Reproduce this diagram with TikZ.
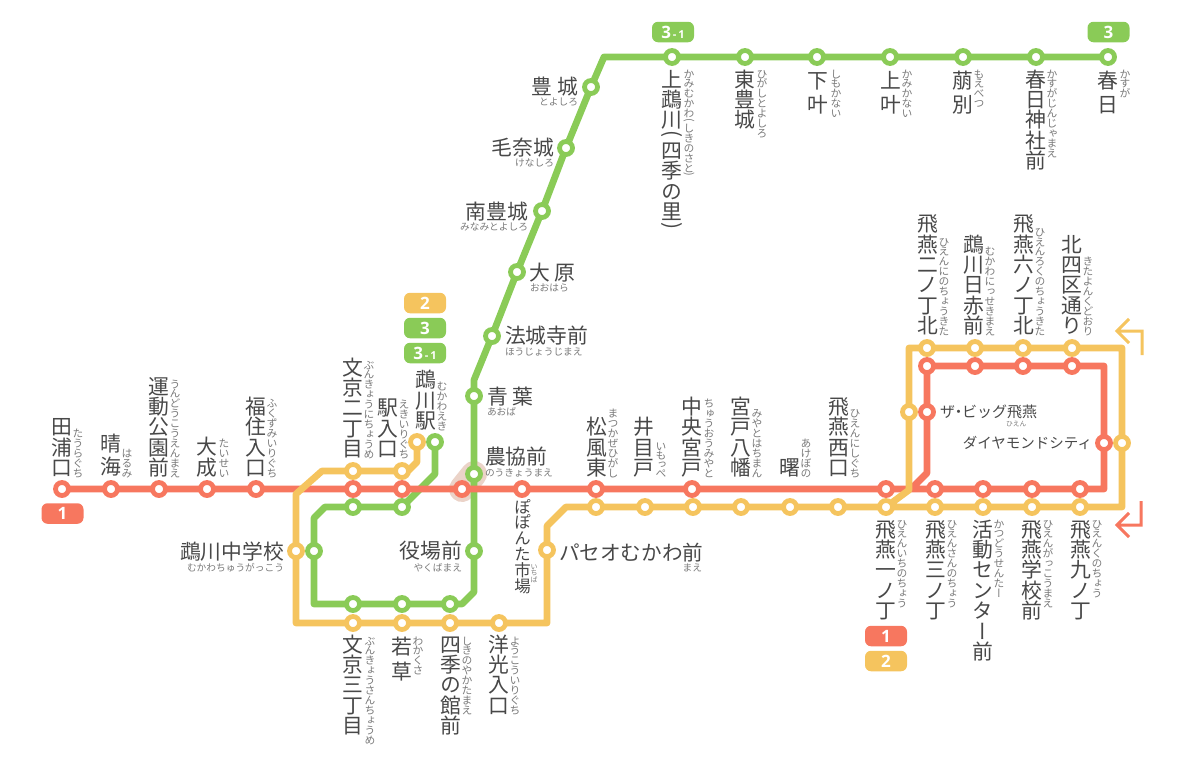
\documentclass[tikz,border=0pt]{standalone}
\usepackage{fontspec}
\usepackage{graphicx}
\usetikzlibrary{backgrounds}
\newfontfamily\jph{Noto Sans CJK JP}
\newfontfamily\jpv[RawFeature=+vert]{Noto Sans CJK JP}
\newfontfamily\bdgf{Open Sans}
\definecolor{rd}{HTML}{F7775F}
\definecolor{gr}{HTML}{8ACB57}
\definecolor{yl}{HTML}{F5C45E}
\definecolor{hl}{HTML}{EBD3C8}
\definecolor{kj}{HTML}{484848}
\definecolor{kn}{HTML}{7A7A7A}
\tikzset{
  x=1pt,y=-1pt,
  station/.style={circle,inner sep=0pt,minimum size=13pt,line width=4.8pt,fill=white},
  route/.style={line width=6.8pt,line join=round,line cap=round},
  badge/.style={rounded corners=6pt,minimum width=42pt,minimum height=20.5pt,inner sep=0pt,text=white,font=\bdgf\bfseries\fontsize{17}{17}\selectfont},
  arrowline/.style={line width=3pt,miter limit=10},
  lbl/.style={inner sep=0pt,outer sep=0pt}
}
\makeatletter
\def\vlpc{(}\def\vrpc{)}
\newcounter{labc}
\newcommand\vst[3]{%
  \vbox{\offinterlineskip
  \@tfor\cc:=#3\do{%
    \ifx\cc\vlpc\vst@p{#1}{#2}\else\ifx\cc\vrpc\vst@p{#1}{#2}\else
    \hbox to #2pt{\hss\vrule width 0pt height \dimexpr #1pt/2+#2pt*38/100\relax depth \dimexpr #1pt/2-#2pt*38/100\relax\cc\hss}%
    \fi\fi}}}
\newcommand\vst@p[2]{\vbox to \dimexpr #1pt/2\relax{\vss\hbox to #2pt{\hss\rotatebox[origin=c]{-90}{\cc}\hss}\vss}}
\makeatother
% vertical kanji: [pitch]{anchor}{x}{y}{text}
\newcommand\VK[5][20.4]{\stepcounter{labc}\node[lbl,anchor=#2,text=kj] (kanji\arabic{labc}) at (#3,#4) {\fontsize{20.8}{20.8}\selectfont\jpv\vst{#1}{20.8}{#5}};}
% vertical kana
\newcommand\VF[5][9.9]{\stepcounter{labc}\node[lbl,anchor=#2,text=kn] (kana\arabic{labc}) at (#3,#4) {\fontsize{10.8}{10.8}\selectfont\jpv\vst{#1}{10.8}{#5}};}
% horizontal: {anchor}{x}{centre y}{size}{colour}{text}
\newcommand\HT[6]{\stepcounter{labc}\node[lbl,anchor=base #1,text=#5] (hlab\arabic{labc}) at (#2,{#3+0.38*#4}) {\fontsize{#4}{#4}\selectfont\jph #6};}
\newcommand\sta[4]{\node[station,draw=#1] (#2) at (#3,#4) {};}
\begin{document}
\begin{tikzpicture}
\useasboundingbox (0,0) rectangle (1200,766);
% ---- red stations
\foreach \n/\x in {r1/62,r2/111,r3/159,r4/207,r5/256,r6/353,r7/402,r8/462,r9/522,r10/596,r11/692,r12/886,r13/935,r14/983,r15/1032,r16/1080}{\sta{rd}{\n}{\x}{489}}
\sta{rd}{r17}{1104}{443}
\foreach \n/\x in {r18/1072,r19/1023,r20/975,r21/927}{\sta{rd}{\n}{\x}{366}}
\sta{rd}{r22}{927}{412}
% ---- yellow stations
\sta{yl}{y1}{417}{442}
\sta{yl}{y2}{402}{471}
\sta{yl}{y3}{353}{471}
\sta{yl}{y4}{296}{551}
\foreach \n/\x in {y5/353,y6/402,y7/450,y8/499}{\sta{yl}{\n}{\x}{623}}
\sta{yl}{y9}{547}{550}
\foreach \n/\x in {y10/596,y11/645,y12/693,y13/741,y14/790,y15/838,y16/886,y17/935,y18/983,y19/1032,y20/1080}{\sta{yl}{\n}{\x}{507}}
\sta{yl}{y21}{1122}{443}
\foreach \n/\x in {y22/1072,y23/1023,y24/975,y25/927}{\sta{yl}{\n}{\x}{348}}
\sta{yl}{y26}{909}{412}
% ---- green stations
\sta{gr}{g1}{435}{442}
\sta{gr}{g2}{402}{507}
\sta{gr}{g3}{353}{507}
\sta{gr}{g4}{314}{551}
\foreach \n/\x in {g5/353,g6/402,g7/450}{\sta{gr}{\n}{\x}{604}}
\sta{gr}{g8}{474}{551}
\sta{gr}{g9}{474}{474}
\sta{gr}{g10}{474}{396}
\sta{gr}{g11}{492}{336}
\sta{gr}{g12}{517}{272}
\sta{gr}{g13}{542}{211}
\sta{gr}{g14}{566}{148}
\sta{gr}{g15}{591}{87}
\foreach \n/\x in {g16/672,g17/745,g18/817,g19/890,g20/963,g21/1036,g22/1108}{\sta{gr}{\n}{\x}{57}}
% ---- corners
\coordinate (rc1) at (1104,489);
\coordinate (rc2) at (1104,366);
\coordinate (rc3) at (927,473);
\coordinate (rc4) at (911,489);
\coordinate (yc1) at (417,462);
\coordinate (yc2) at (408,471);
\coordinate (yc3) at (322,471);
\coordinate (yc4) at (296,494);
\coordinate (yc5) at (296,623);
\coordinate (yc6) at (547,623);
\coordinate (yc7) at (547,526);
\coordinate (yc8) at (566,507);
\coordinate (yc9) at (1122,507);
\coordinate (yc10) at (1122,348);
\coordinate (yc11) at (909,348);
\coordinate (yc12) at (909,490);
\coordinate (gc1) at (435,474);
\coordinate (gc2) at (325,507);
\coordinate (gc3) at (314,518);
\coordinate (gc4) at (314,604);
\coordinate (gc5) at (462,604);
\coordinate (gc6) at (474,592);
\coordinate (gc7) at (474,380);
\coordinate (gc8) at (604,57);
% ---- routes under the stations
\begin{scope}[on background layer]
\draw[hl,line width=26pt,line cap=round] (r8.center) -- (g9.center);
\draw[route,gr] (g1.center) -- (gc1) -- (g2.center) -- (g3.center) -- (gc2) -- (gc3) -- (g4.center) -- (gc4) -- (g5.center) -- (g6.center) -- (g7.center) -- (gc5) -- (gc6) -- (g8.center) -- (g9.center) -- (g10.center) -- (gc7) -- (g11.center) -- (g12.center) -- (g13.center) -- (g14.center) -- (g15.center) -- (gc8) -- (g16.center) -- (g22.center);
\draw[route,rd] (r1.center) -- (rc1) -- (r17.center) -- (rc2) -- (r21.center) -- (r22.center) -- (rc3) -- (rc4);
\draw[route,yl] (y1.center) -- (yc1) -- (yc2) -- (y2.center) -- (yc3) -- (yc4) -- (y4.center) -- (yc5) -- (y8.center) -- (yc6) -- (y9.center) -- (yc7) -- (yc8) -- (y10.center) -- (yc9) -- (y21.center) -- (yc10) -- (yc11) -- (y26.center) -- (yc12) -- (y16.center);
\end{scope}
% ---- direction arrows
\coordinate (a1) at (1142,355); \coordinate (a2) at (1142,331); \coordinate (a3) at (1117,331);
\coordinate (a4) at (1129,319); \coordinate (a5) at (1129,343);
\draw[arrowline,yl] (a1) -- (a2) -- (a3) (a4) -- (a3) -- (a5);
\coordinate (b1) at (1141,501); \coordinate (b2) at (1141,525); \coordinate (b3) at (1117,525);
\coordinate (b4) at (1129,513); \coordinate (b5) at (1129,537);
\draw[arrowline,rd] (b1) -- (b2) -- (b3) (b4) -- (b3) -- (b5);
% ---- badges
\node[badge,fill=rd] (bd1) at (62.5,513.5) {1};
\node[badge,fill=yl] (bd2) at (425,303) {2};
\node[badge,fill=gr] (bd3) at (425,328) {3};
\node[badge,fill=gr] (bd4) at (425,353) {3\fontsize{11}{11}\selectfont\,-\,1};
\node[badge,fill=gr] (bd5) at (673,32) {3\fontsize{11}{11}\selectfont\,-\,1};
\node[badge,fill=gr] (bd6) at (1108.5,32) {3};
\node[badge,fill=rd] (bd7) at (886,636) {1};
\node[badge,fill=yl] (bd8) at (886,661) {2};
% ---- labels above the red line
\VK{south}{62}{478}{田浦口}\VF{south}{78}{478}{たうらぐち}
\VK[23]{south}{111}{478}{晴海}\VF{south}{127}{478}{はるみ}
\VK{south}{159}{478}{運動公園前}\VF{south}{175}{478}{うんどうこうえんまえ}
\VK[21]{south}{207}{478}{大成}\VF{south}{224}{478}{たいせい}
\VK{south}{256}{478}{福住入口}\VF{south}{272}{478}{ふくずみいりぐち}
\VK{south}{353}{459}{文京二丁目}\VF{south}{369}{459}{ぶんきょうにちょうめ}
\VK{south}{388}{459}{駅入口}\VF{south}{404}{459}{えきいりぐち}
\VK{south}{426}{431}{鵡川駅}\VF{south}{442}{431}{むかわえき}
\VK{south}{597}{478}{松風東}\VF{south}{613}{478}{まつかぜひがし}
\VK{south}{644}{478}{井目戸}\VF[9]{south}{661}{478}{いもっぺ}
\VK{south}{692}{478}{中央宮戸}\VF{south}{709}{478}{ちゅうおうみやと}
\VK{south}{741}{478}{宮戸八幡}\VF{south}{757}{478}{みやとはちまん}
\VK{south}{790}{478}{曙}\VF{south}{806}{478}{あけぼの}
\VK{south}{839}{478}{飛燕西口}\VF{south}{855}{478}{ひえんにしぐち}
% ---- labels below the lines
\VK{north}{353}{634}{文京三丁目}\VF{north}{370}{636}{ぶんきょうさんちょうめ}
\VK[25]{north}{402}{634}{若草}\VF{north}{418}{636}{わかくさ}
\VK{north}{451}{634}{四季の館前}\VF{north}{467}{636}{しきのやかたまえ}
\VK{north}{499}{634}{洋光入口}\VF{north}{515}{636}{ようこういりぐち}
\VK{north}{886}{519}{飛燕一ノ丁}\VF{north}{902}{519}{ひえんいちのちょう}
\VK{north}{936}{519}{飛燕三ノ丁}\VF{north}{952}{519}{ひえんさんのちょう}
\VK{north}{983}{519}{活動センター前}\VF{north}{999}{519}{かつどうせんたー}
\VK{north}{1032}{519}{飛燕学校前}\VF{north}{1048}{519}{ひえんがっこうまえ}
\VK{north}{1081}{519}{飛燕九ノ丁}\VF{north}{1097}{519}{ひえんくのちょう}
\stepcounter{labc}\node[lbl,anchor=north,text=kj] (kanjiichiba) at (522.5,499) {\fontsize{16.5}{16.5}\selectfont\jpv\vst{15.8}{16.5}{ぽぽんた市場}};
\stepcounter{labc}\node[lbl,anchor=north,text=kn] (kanaichiba) at (534,563) {\fontsize{7}{7}\selectfont\jpv\vst{6.8}{7}{いちば}};
% ---- labels above the top loop
\VK{south}{928}{336}{飛燕二ノ丁北}\VF{south}{944}{336}{ひえんにのちょうきた}
\VK{south}{974}{336}{鵡川日赤前}\VF{south}{990}{336}{むかわにっせきまえ}
\VK{south}{1024}{336}{飛燕六ノ丁北}\VF{south}{1040}{336}{ひえんろくのちょうきた}
\VK{south}{1072}{336}{北四区通り}\VF{south}{1088}{336}{きたよんくどおり}
% ---- labels below the top line
\VK{north}{672}{69}{上鵡川(四季の里)}\VF{north}{689}{69}{かみむかわ(しきのさと)}
\VK{north}{745}{69}{東豊城}\VF{north}{762}{69}{ひがしとよしろ}
\VK[24]{north}{818}{69}{下叶}\VF{north}{836}{69}{しもかない}
\VK[24]{north}{891}{69}{上叶}\VF{north}{907}{69}{かみかない}
\VK[24]{north}{963}{69}{萠別}\VF{north}{979}{69}{もえべつ}
\VK{north}{1036}{69}{春日神社前}\VF{north}{1052}{69}{かすがじんじゃまえ}
\VK[24]{north}{1108}{69}{春日}\VF{north}{1125}{69}{かすが}
% ---- horizontal labels
\HT{east}{578}{87}{20.8}{kj}{豊 城}\HT{east}{578}{102}{9.7}{kn}{とよしろ}
\HT{east}{554}{148}{20.8}{kj}{毛奈城}\HT{east}{554}{163}{9.7}{kn}{けなしろ}
\HT{east}{528}{212}{20.8}{kj}{南豊城}\HT{east}{528}{227}{9.7}{kn}{みなみとよしろ}
\HT{west}{529}{273}{20.8}{kj}{大 原}\HT{west}{530}{288}{9.7}{kn}{おおはら}
\HT{west}{505}{336}{20.8}{kj}{法城寺前}\HT{west}{505}{352}{9.7}{kn}{ほうじょうじまえ}
\HT{west}{487}{397}{20.8}{kj}{青 葉}\HT{west}{487}{412}{9.7}{kn}{あおば}
\HT{west}{485}{457}{20.8}{kj}{農協前}\HT{west}{485}{473}{9.7}{kn}{のうきょうまえ}
\HT{east}{284}{552}{20.8}{kj}{鵡川中学校}\HT{east}{284}{568}{9.7}{kn}{むかわちゅうがっこう}
\HT{east}{462}{551}{20.8}{kj}{役場前}\HT{east}{462}{568}{9.7}{kn}{やくばまえ}
\HT{west}{559}{553}{20.6}{kj}{パセオむかわ前}\HT{east}{702}{568}{9.7}{kn}{まえ}
\HT{west}{940}{412}{15}{kj}{ザ\kern-4pt ・\kern-4pt ビッグ飛燕}\HT{west}{1006}{424}{6.8}{kn}{ひえん}
\HT{east}{1092}{443}{14.5}{kj}{ダイヤモンドシティ}
\end{tikzpicture}
\end{document}
